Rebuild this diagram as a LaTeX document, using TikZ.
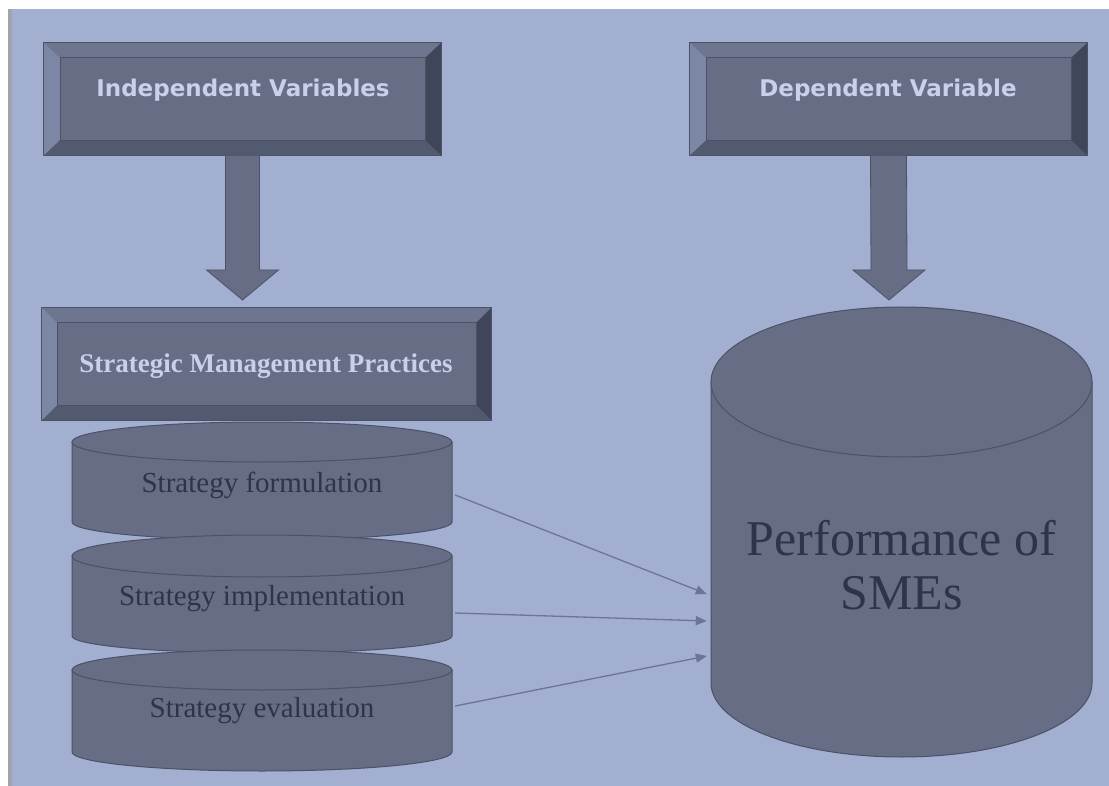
\documentclass[tikz,border=0pt]{standalone}
\usepackage{fontspec}
\setmainfont{Liberation Serif}
\newfontfamily\boxsans{DejaVu Sans}
\usetikzlibrary{calc,arrows.meta}
\definecolor{bgc}{HTML}{A3AFD0}
\definecolor{facec}{HTML}{666D84}
\definecolor{edgec}{HTML}{4A5268}
\definecolor{bvtop}{HTML}{6E768F}
\definecolor{bvleft}{HTML}{7C87A5}
\definecolor{bvright}{HTML}{3F4659}
\definecolor{bvbot}{HTML}{525A6F}
\definecolor{boxtext}{HTML}{C8D0EA}
\definecolor{darktext}{HTML}{2E3548}
\definecolor{linkc}{HTML}{6B7594}
\definecolor{stripc}{HTML}{A3A3AA}
\newcommand\bevelize[3]{%
  \fill[bvtop] (#1.north west) -- (#1.north east) -- ([shift={(-#2pt,-#3pt)}]#1.north east) -- ([shift={(#2pt,-#3pt)}]#1.north west) -- cycle;
  \fill[bvbot] (#1.south west) -- (#1.south east) -- ([shift={(-#2pt,#3pt)}]#1.south east) -- ([shift={(#2pt,#3pt)}]#1.south west) -- cycle;
  \fill[bvleft] (#1.north west) -- (#1.south west) -- ([shift={(#2pt,#3pt)}]#1.south west) -- ([shift={(#2pt,-#3pt)}]#1.north west) -- cycle;
  \fill[bvright] (#1.north east) -- (#1.south east) -- ([shift={(-#2pt,#3pt)}]#1.south east) -- ([shift={(-#2pt,-#3pt)}]#1.north east) -- cycle;
  \draw[edgec, line width=0.6pt] ([shift={(#2pt,-#3pt)}]#1.north west) rectangle ([shift={(-#2pt,#3pt)}]#1.south east);
  \draw[edgec, line width=1pt] (#1.north west) rectangle (#1.south east);
}
\tikzset{
  boxnode/.style={rectangle, fill=facec, inner sep=0pt},
  boxlabel/.style={text=boxtext, inner sep=0pt},
  cylfill/.style={fill=facec, draw=edgec, line width=1pt},
  cyltext/.style={text=darktext, font=\fontsize{29}{32}\selectfont, inner sep=0pt},
  blockarrow/.style={fill=facec, draw=edgec, line width=0.8pt},
  link/.style={draw=linkc, line width=1.3pt, -{Triangle[length=11pt,width=9pt]}},
  holder/.style={rectangle, inner sep=0pt}
}
\begin{document}
\begin{tikzpicture}[x=1pt,y=-1pt]
\useasboundingbox (0,0) rectangle (1109,786);
\fill[white] (0,0) rectangle (1109,786);
\fill[stripc] (8,9) rectangle (12,786);
\fill[bgc] (12,9) rectangle (1109,786);

% top boxes
\node[boxnode, minimum width=397pt, minimum height=112pt] (iv) at (242.5,99) {};
\bevelize{iv}{16}{15}
\node[boxlabel, font=\boxsans\bfseries\fontsize{23}{26}\selectfont] (ivt) at (243,90) {Independent Variables};

\node[boxnode, minimum width=397pt, minimum height=112pt] (dv) at (888.5,99) {};
\bevelize{dv}{16}{15}
\node[boxlabel, font=\boxsans\bfseries\fontsize{23}{26}\selectfont] (dvt) at (888,90) {Dependent Variable};

% block arrows
\coordinate (tip1) at (242.5,300);
\coordinate (tip2) at (889,300);
\filldraw[blockarrow] ([xshift=-17pt]iv.south) -- ($(tip1)+(-17,-30)$) -- ($(tip1)+(-36,-30)$) -- (tip1) -- ($(tip1)+(36,-30)$) -- ($(tip1)+(17,-30)$) -- ([xshift=17pt]iv.south) -- cycle;
\filldraw[blockarrow] ([xshift=-18pt]dv.south) -- ($(tip2)+(-18,-30)$) -- ($(tip2)+(-36,-30)$) -- (tip2) -- ($(tip2)+(36,-30)$) -- ($(tip2)+(18,-30)$) -- ([xshift=18pt]dv.south) -- cycle;

% strategic management box
\node[boxnode, minimum width=449pt, minimum height=112pt] (smp) at (266.5,364) {};
\bevelize{smp}{15}{15}
\node[boxlabel, font=\bfseries\fontsize{27}{30}\selectfont] (smpt) at (266,366) {Strategic Management Practices};

% small cylinders
\filldraw[cylfill] (72,442) -- (72,522) arc[start angle=180, end angle=360, x radius=190pt, y radius=18pt] -- (452,442) -- cycle;
\filldraw[cylfill] (262,442) ellipse[x radius=190pt, y radius=20pt];
\filldraw[cylfill] (72,556) -- (72,636) arc[start angle=180, end angle=360, x radius=190pt, y radius=17pt] -- (452,556) -- cycle;
\filldraw[cylfill] (262,556) ellipse[x radius=190pt, y radius=21pt];
\filldraw[cylfill] (72,670) -- (72,752) arc[start angle=180, end angle=360, x radius=190pt, y radius=19pt] -- (452,670) -- cycle;
\filldraw[cylfill] (262,670) ellipse[x radius=190pt, y radius=20pt];

\node[holder, minimum width=380pt, minimum height=80pt] (c1) at (262,482) {};
\node[holder, minimum width=380pt, minimum height=80pt] (c2) at (262,596) {};
\node[holder, minimum width=380pt, minimum height=80pt] (c3) at (262,711) {};
\node[cyltext] (c1t) at (262,485) {Strategy formulation};
\node[cyltext] (c2t) at (262,599) {Strategy implementation};
\node[cyltext] (c3t) at (262,711) {Strategy evaluation};

% big cylinder
\filldraw[cylfill] (711,382) -- (711,683) arc[start angle=180, end angle=360, x radius=190.5pt, y radius=74pt] -- (1092,382) -- cycle;
\filldraw[cylfill] (901.5,382) ellipse[x radius=190.5pt, y radius=75pt];
\node[holder, minimum width=381pt, minimum height=301pt] (P) at (901.5,532.5) {};
\node[text=darktext, font=\fontsize{50}{54}\selectfont, align=center, inner sep=0pt] (Pt) at (901.5,565) {Performance of\\SMEs};

% links
\draw[link] ([shift={(3pt,-13pt)}]c1.east) -- ([shift={(-4pt,-61.5pt)}]P.west);
\draw[link] ([shift={(3pt,-17pt)}]c2.east) -- ([shift={(-4pt,-88.5pt)}]P.west);
\draw[link] ([shift={(3pt,5pt)}]c3.east) -- ([shift={(-4pt,-123.5pt)}]P.west);
\end{tikzpicture}
\end{document}
